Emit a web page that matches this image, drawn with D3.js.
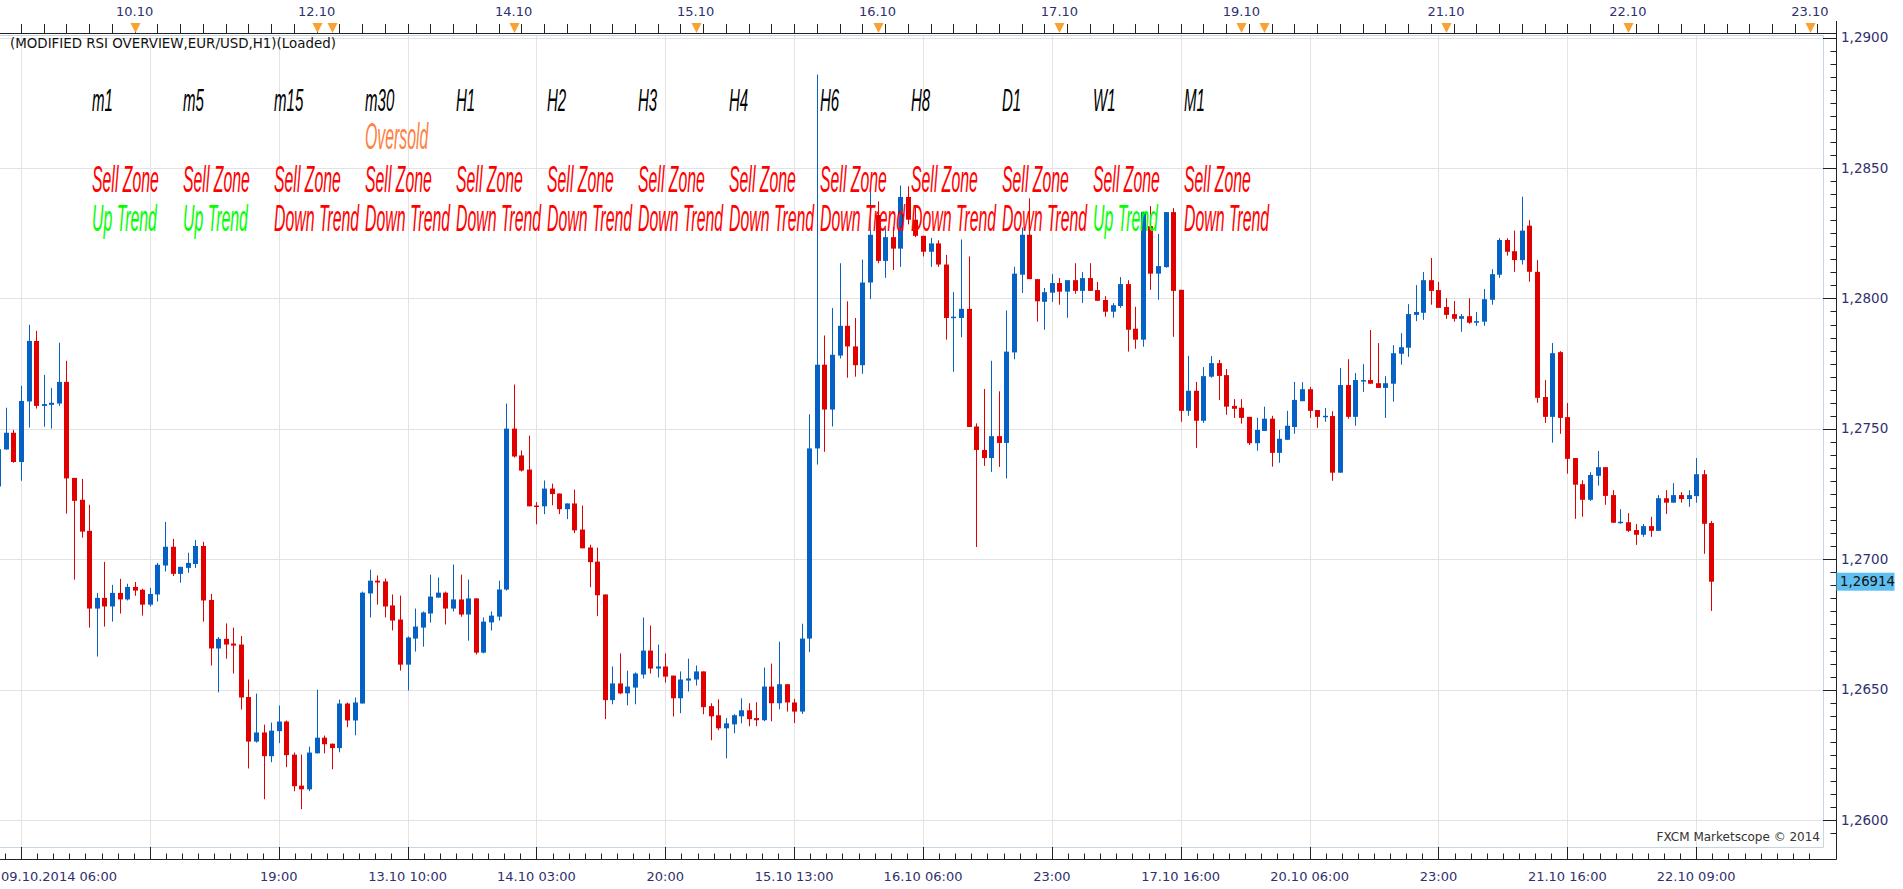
<!DOCTYPE html>
<html><head><meta charset="utf-8">
<script src="https://cdn.jsdelivr.net/npm/d3@7"></script>
<style>html,body{margin:0;padding:0;background:#fff;overflow:hidden}</style>
</head><body><svg id="c" width="1903" height="889"></svg>
<script>
// ---------- data (EUR/USD H1 candles, index 0 = 09.10.2014 06:00) ----------
const opens=[1.27279,1.27421,1.27485,1.27373,1.27605,1.27837,1.27588,1.27592,1.27597,1.27680,1.27312,1.27228,1.27109,1.26811,1.26852,1.26819,1.26871,1.26846,1.26894,1.26883,
1.26826,1.26865,1.26976,1.27048,1.26944,1.26967,1.26982,1.27051,1.26844,1.26658,1.26695,1.26677,1.26673,1.26472,1.26301,1.26336,1.26245,1.26341,1.26378,1.26251,
1.26132,1.26118,1.26256,1.26316,1.26293,1.26276,1.26447,1.26382,1.26447,1.26869,1.26918,1.26915,1.26823,1.26769,1.26596,1.26696,1.26738,1.26792,1.26853,1.26872,
1.26811,1.26846,1.26788,1.26850,1.26642,1.26758,1.26780,1.26884,1.27501,1.27398,1.27344,1.27206,1.27203,1.27271,1.27252,1.27192,1.27214,1.27114,1.27045,1.26991,
1.26865,1.26460,1.26524,1.26486,1.26508,1.26558,1.26650,1.26581,1.26589,1.26554,1.26467,1.26535,1.26539,1.26570,1.26437,1.26402,1.26352,1.26367,1.26398,1.26421,
1.26391,1.26383,1.26512,1.26448,1.26521,1.26451,1.26416,1.26696,1.27425,1.27746,1.27574,1.27781,1.27895,1.27816,1.27744,1.28061,1.28320,1.28144,1.28235,1.28191,
1.28389,1.28302,1.28240,1.28179,1.28211,1.28130,1.27925,1.27925,1.27960,1.27509,1.27419,1.27388,1.27472,1.27446,1.27793,1.28091,1.28244,1.28074,1.27987,1.28022,
1.28059,1.28026,1.28070,1.28029,1.28078,1.28032,1.27994,1.27949,1.27971,1.28055,1.27884,1.27842,1.28277,1.28095,1.28120,1.28331,1.28033,1.27569,1.27646,1.27531,
1.27700,1.27752,1.27706,1.27588,1.27581,1.27546,1.27445,1.27492,1.27539,1.27408,1.27458,1.27507,1.27606,1.27652,1.27572,1.27546,1.27549,1.27332,1.27668,1.27546,
1.27684,1.27687,1.27675,1.27657,1.27673,1.27788,1.27811,1.27937,1.27945,1.28070,1.28032,1.27967,1.27940,1.27922,1.27932,1.27907,1.27911,1.27995,1.28091,1.28224,
1.28181,1.28147,1.28279,1.28102,1.27622,1.27546,1.27794,1.27545,1.27388,1.27288,1.27228,1.27320,1.27353,1.27246,1.27140,1.27142,1.27112,1.27094,1.27127,1.27109,
1.27234,1.27217,1.27246,1.27231,1.27242,1.27326,1.27139];
const highs=[1.27450,1.27581,1.27496,1.27665,1.27899,1.27876,1.27707,1.27657,1.27830,1.27761,1.27312,1.27308,1.27209,1.26871,1.26990,1.26902,1.26925,1.26906,1.26913,1.26887,
1.26890,1.26986,1.27143,1.27078,1.26971,1.27025,1.27074,1.27067,1.26867,1.26702,1.26754,1.26738,1.26706,1.26539,1.26485,1.26366,1.26374,1.26439,1.26382,1.26259,
1.26251,1.26282,1.26500,1.26324,1.26293,1.26462,1.26451,1.26470,1.26876,1.26960,1.26938,1.26926,1.26865,1.26861,1.26704,1.26811,1.26800,1.26941,1.26930,1.26876,
1.26980,1.26941,1.26922,1.26850,1.26777,1.26800,1.26918,1.27597,1.27670,1.27417,1.27474,1.27219,1.27302,1.27290,1.27252,1.27214,1.27267,1.27206,1.27056,1.27045,
1.26865,1.26589,1.26639,1.26573,1.26566,1.26777,1.26746,1.26673,1.26639,1.26554,1.26570,1.26619,1.26593,1.26570,1.26448,1.26463,1.26391,1.26406,1.26467,1.26448,
1.26452,1.26585,1.26600,1.26684,1.26521,1.26465,1.26753,1.27556,1.28858,1.27858,1.27963,1.28135,1.27989,1.27925,1.28149,1.28425,1.28372,1.28272,1.28275,1.28433,
1.28430,1.28354,1.28240,1.28232,1.28223,1.28167,1.28025,1.28226,1.28161,1.27521,1.27653,1.27761,1.27644,1.27954,1.28121,1.28272,1.28384,1.28074,1.28040,1.28093,
1.28078,1.28070,1.28135,1.28101,1.28135,1.28063,1.28009,1.27982,1.28082,1.28070,1.27968,1.28331,1.28354,1.28247,1.28331,1.28346,1.28033,1.27780,1.27680,1.27737,
1.27779,1.27764,1.27729,1.27614,1.27614,1.27546,1.27542,1.27585,1.27550,1.27496,1.27569,1.27680,1.27679,1.27660,1.27572,1.27580,1.27568,1.27733,1.27767,1.27714,
1.27748,1.27879,1.27829,1.27702,1.27821,1.27867,1.27978,1.28051,1.28101,1.28155,1.28063,1.28001,1.27990,1.27940,1.28001,1.27948,1.28036,1.28112,1.28231,1.28231,
1.28260,1.28390,1.28300,1.28147,1.27687,1.27829,1.27798,1.27599,1.27388,1.27303,1.27334,1.27415,1.27353,1.27265,1.27192,1.27177,1.27135,1.27135,1.27163,1.27246,
1.27265,1.27292,1.27257,1.27265,1.27388,1.27342,1.27147];
const lows=[1.27270,1.27420,1.27370,1.27301,1.27505,1.27578,1.27508,1.27501,1.27588,1.27175,1.26922,1.27083,1.26738,1.26627,1.26742,1.26761,1.26792,1.26842,1.26860,1.26784,
1.26819,1.26838,1.26953,1.26936,1.26910,1.26948,1.26967,1.26761,1.26593,1.26490,1.26619,1.26562,1.26424,1.26198,1.26297,1.26080,1.26222,1.26295,1.26203,1.26111,
1.26042,1.26111,1.26256,1.26256,1.26195,1.26260,1.26356,1.26325,1.26447,1.26777,1.26826,1.26777,1.26727,1.26573,1.26497,1.26646,1.26665,1.26757,1.26853,1.26750,
1.26800,1.26780,1.26688,1.26635,1.26639,1.26727,1.26765,1.26880,1.27390,1.27336,1.27203,1.27134,1.27173,1.27207,1.27173,1.27154,1.27100,1.27042,1.26893,1.26782,
1.26387,1.26444,1.26483,1.26440,1.26444,1.26543,1.26562,1.26547,1.26527,1.26397,1.26410,1.26493,1.26516,1.26406,1.26306,1.26345,1.26237,1.26333,1.26371,1.26360,
1.26360,1.26379,1.26379,1.26425,1.26416,1.26372,1.26407,1.26644,1.27363,1.27412,1.27509,1.27770,1.27696,1.27700,1.27711,1.27998,1.28135,1.28079,1.28109,1.28121,
1.28284,1.28235,1.28161,1.28121,1.28121,1.27842,1.27719,1.27851,1.27507,1.27047,1.27358,1.27335,1.27354,1.27310,1.27767,1.28021,1.28074,1.27911,1.27880,1.27987,
1.27976,1.27926,1.28018,1.27983,1.28029,1.27991,1.27930,1.27926,1.27964,1.27796,1.27807,1.27815,1.28033,1.27995,1.28118,1.27853,1.27527,1.27550,1.27427,1.27523,
1.27696,1.27610,1.27554,1.27542,1.27520,1.27438,1.27416,1.27492,1.27355,1.27370,1.27458,1.27481,1.27606,1.27542,1.27504,1.27527,1.27301,1.27332,1.27539,1.27512,
1.27642,1.27673,1.27657,1.27542,1.27604,1.27746,1.27776,1.27913,1.27918,1.27976,1.27964,1.27922,1.27911,1.27872,1.27903,1.27895,1.27895,1.27976,1.28079,1.28164,
1.28102,1.28130,1.28064,1.27600,1.27523,1.27447,1.27481,1.27328,1.27155,1.27163,1.27224,1.27282,1.27209,1.27140,1.27136,1.27105,1.27055,1.27086,1.27086,1.27109,
1.27174,1.27217,1.27217,1.27201,1.27217,1.27021,1.26802];
const closes=[1.27422,1.27485,1.27373,1.27607,1.27837,1.27588,1.27595,1.27600,1.27680,1.27310,1.27224,1.27106,1.26811,1.26852,1.26819,1.26871,1.26846,1.26894,1.26880,1.26826,
1.26867,1.26979,1.27048,1.26944,1.26971,1.26986,1.27051,1.26842,1.26658,1.26695,1.26673,1.26669,1.26470,1.26301,1.26336,1.26245,1.26343,1.26378,1.26249,1.26130,
1.26118,1.26259,1.26316,1.26291,1.26276,1.26447,1.26382,1.26451,1.26872,1.26918,1.26911,1.26819,1.26765,1.26596,1.26700,1.26742,1.26796,1.26857,1.26872,1.26811,
1.26846,1.26788,1.26850,1.26642,1.26761,1.26784,1.26884,1.27501,1.27394,1.27340,1.27203,1.27202,1.27271,1.27250,1.27192,1.27214,1.27111,1.27042,1.26989,1.26862,
1.26460,1.26524,1.26486,1.26512,1.26562,1.26650,1.26581,1.26589,1.26550,1.26467,1.26539,1.26543,1.26570,1.26433,1.26398,1.26352,1.26371,1.26402,1.26421,1.26387,
1.26383,1.26512,1.26448,1.26521,1.26451,1.26416,1.26696,1.27425,1.27746,1.27574,1.27784,1.27895,1.27816,1.27744,1.28061,1.28244,1.28144,1.28235,1.28191,1.28389,
1.28302,1.28240,1.28179,1.28211,1.28130,1.27925,1.27930,1.27960,1.27507,1.27419,1.27388,1.27472,1.27446,1.27796,1.28095,1.28244,1.28074,1.27989,1.28024,1.28059,
1.28026,1.28070,1.28029,1.28078,1.28029,1.27991,1.27949,1.27974,1.28055,1.27880,1.27842,1.28331,1.28095,1.28124,1.28331,1.28029,1.27569,1.27646,1.27531,1.27702,
1.27752,1.27703,1.27585,1.27577,1.27542,1.27445,1.27496,1.27539,1.27408,1.27462,1.27512,1.27611,1.27652,1.27569,1.27546,1.27550,1.27332,1.27668,1.27546,1.27687,
1.27687,1.27673,1.27657,1.27675,1.27790,1.27813,1.27940,1.27948,1.28070,1.28029,1.27964,1.27937,1.27922,1.27932,1.27907,1.27913,1.27997,1.28093,1.28224,1.28179,
1.28147,1.28260,1.28102,1.27619,1.27546,1.27790,1.27542,1.27385,1.27286,1.27228,1.27323,1.27353,1.27243,1.27140,1.27144,1.27109,1.27094,1.27127,1.27109,1.27234,
1.27217,1.27246,1.27231,1.27246,1.27326,1.27136,1.26914];

const priceTicks=[1.26,1.265,1.27,1.275,1.28,1.285,1.29];
const xGridIdx=[3,20,37,54,71,88,105,122,139,156,173,190,207,224];
const xGridLabels=["","","19:00","13.10 10:00","14.10 03:00","20:00","15.10 13:00","16.10 06:00","23:00","17.10 16:00","20.10 06:00","23:00","21.10 16:00","22.10 09:00"];
const firstTimeLabel="09.10.2014 06:00";
const dayMarkIdx=[18,42,44,68,92,116,140,164,167,191,215,239];
const dayLabelIdx=[18,42,68,92,116,140,164,191,215,239];
const dayLabels=["10.10","12.10","14.10","15.10","16.10","17.10","19.10","21.10","22.10","23.10"];
const timeframes=["m1","m5","m15","m30","H1","H2","H3","H4","H6","H8","D1","W1","M1"];
const stateLabels=["","","","Oversold","","","","","","","","",""];
const zoneLabels=["Sell Zone","Sell Zone","Sell Zone","Sell Zone","Sell Zone","Sell Zone","Sell Zone","Sell Zone","Sell Zone","Sell Zone","Sell Zone","Sell Zone","Sell Zone"];
const trendLabels=["Up Trend","Up Trend","Down Trend","Down Trend","Down Trend","Down Trend","Down Trend","Down Trend","Down Trend","Down Trend","Down Trend","Up Trend","Down Trend"];
const titleText="(MODIFIED RSI OVERVIEW,EUR/USD,H1)(Loaded)";
const creditText="FXCM Marketscope \u00A9 2014";
const lastPrice=closes[closes.length-1];

// ---------- layout ----------
const P={l:0,r:1823,t:35,b:847};
const AX={right:1836.5,top:33.5,bottom:859.5};
const BLUE="#0562c4", RED="#e00000", AXTXT="#30306e", GRID="#e3e3e3", FRAME="#c8d5e2";

const x=d3.scaleLinear().domain([0,240]).range([-1.74,-1.74+7.58*240]);
const y=d3.scaleLinear().domain([1.26,1.29]).range([820.1,37.6]);
const col=d3.scaleLinear().domain([0,12]).range([92,92+91*12]);
const fmt=d=>d3.format(".4f")(d).replace(".",",");

const svg=d3.select("#c");
svg.append("rect").attr("width",1903).attr("height",889).attr("fill","#fff");
svg.append("defs").append("clipPath").attr("id","pc").append("rect")
  .attr("x",P.l).attr("y",P.t).attr("width",P.r-P.l).attr("height",P.b-P.t);

// grid
const g=svg.append("g");
g.selectAll("line.h").data(priceTicks).join("line").attr("class","h")
  .attr("x1",P.l).attr("x2",P.r).attr("y1",d=>Math.round(y(d))+0.5).attr("y2",d=>Math.round(y(d))+0.5)
  .attr("stroke",GRID).attr("stroke-width",1);
g.selectAll("line.v").data(xGridIdx).join("line").attr("class","v")
  .attr("x1",d=>Math.round(x(d))+0.5).attr("x2",d=>Math.round(x(d))+0.5).attr("y1",P.t).attr("y2",P.b)
  .attr("stroke",GRID).attr("stroke-width",1);

// candles
const candles=opens.map((o,i)=>({i,o,h:highs[i],l:lows[i],c:closes[i]}));
const cg=svg.append("g").attr("clip-path","url(#pc)");
const cs=cg.selectAll("g").data(candles).join("g");
cs.append("rect")
  .attr("x",d=>Math.round(x(d.i))).attr("width",1)
  .attr("y",d=>y(d.h)).attr("height",d=>Math.max(1,y(d.l)-y(d.h)))
  .attr("fill",d=>d.c>=d.o?BLUE:RED);
cs.append("rect")
  .attr("x",d=>Math.round(x(d.i))-2).attr("width",5)
  .attr("y",d=>y(Math.max(d.o,d.c))).attr("height",d=>Math.max(1.5,Math.abs(y(d.o)-y(d.c))))
  .attr("fill",d=>d.c>=d.o?BLUE:RED);

// indicator overview text
const tg=svg.append("g").attr("font-family","'Liberation Sans', Arial, sans-serif").attr("font-style","italic");
function rowText(arr,base,size,sx,color){
  tg.selectAll(null).data(arr.map((t,k)=>({t,k})).filter(d=>d.t)).join("text")
    .attr("transform",d=>`translate(${col(d.k)},${base}) scale(${sx},1)`)
    .attr("font-size",size).attr("fill",typeof color==="function"?d=>color(d.t):color)
    .text(d=>d.t);
}
rowText(timeframes,111,32,0.47,"#000");
rowText(stateLabels,149,36,0.44,"#ff8040");
rowText(zoneLabels,192,36,0.44,"#ff0000");
rowText(trendLabels,231,36,0.44,t=>t==="Up Trend"?"#00ff00":"#ff0000");

// title
const ff="'DejaVu Sans', Verdana, sans-serif";
svg.append("text").attr("x",10).attr("y",48).attr("font-family",ff)
  .attr("font-size",13.4).attr("fill","#111").text(titleText);
svg.append("text").attr("x",1820).attr("y",841).attr("text-anchor","end").attr("font-family",ff)
  .attr("font-size",12).attr("fill","#333").text(creditText);

// frame
svg.append("path").attr("d",`M${P.l},${P.t+0.5}H${P.r+0.5}V${P.b+0.5}H${P.l}`).attr("fill","none").attr("stroke",FRAME).attr("stroke-width",1);

// axes lines
const ax=svg.append("g").attr("stroke","#222").attr("stroke-width",1);
ax.append("line").attr("x1",0).attr("x2",AX.right).attr("y1",AX.top).attr("y2",AX.top);
ax.append("line").attr("x1",0).attr("x2",AX.right).attr("y1",AX.bottom).attr("y2",AX.bottom);
ax.append("line").attr("x1",AX.right).attr("x2",AX.right).attr("y1",21).attr("y2",AX.bottom);

// right axis ticks and labels
const minorP=d3.range(0,70).map(k=>1.2595+k*0.0005).filter(p=>p<=1.29001);
ax.selectAll("line.rm").data(minorP).join("line").attr("class","rm")
  .attr("x1",AX.right-6).attr("x2",AX.right).attr("y1",d=>Math.round(y(d))+0.5).attr("y2",d=>Math.round(y(d))+0.5);
ax.selectAll("line.rM").data(priceTicks).join("line").attr("class","rM")
  .attr("x1",P.r).attr("x2",AX.right).attr("y1",d=>Math.round(y(d))+0.5).attr("y2",d=>Math.round(y(d))+0.5);
svg.selectAll("text.py").data(priceTicks).join("text").attr("class","py")
  .attr("x",1841).attr("y",d=>y(d)+4.5).attr("font-family",ff).attr("font-size",13.5).attr("fill",AXTXT).text(fmt);

// last price box
svg.append("rect").attr("x",AX.right).attr("y",y(lastPrice)-9).attr("width",58).attr("height",18).attr("fill","#5fbff0");
svg.append("text").attr("x",1840).attr("y",y(lastPrice)+4.5).attr("font-family",ff).attr("font-size",13.3).attr("fill","#111")
  .text(d3.format(".5f")(lastPrice).replace(".",","));

// bottom axis
const bMinor=[];
xGridIdx.forEach(i=>{for(let k=1;k<8;k++)bMinor.push(i+k*17/8);});
bMinor.push(3-17/8);
ax.selectAll("line.bm").data(bMinor.filter(i=>x(i)>0&&x(i)<AX.right)).join("line").attr("class","bm")
  .attr("x1",d=>Math.round(x(d))+0.5).attr("x2",d=>Math.round(x(d))+0.5).attr("y1",AX.bottom-6).attr("y2",AX.bottom);
ax.selectAll("line.bM").data(xGridIdx).join("line").attr("class","bM")
  .attr("x1",d=>Math.round(x(d))+0.5).attr("x2",d=>Math.round(x(d))+0.5).attr("y1",P.b).attr("y2",AX.bottom);
svg.selectAll("text.bx").data(xGridIdx.map((i,k)=>({i,t:xGridLabels[k]})).filter(d=>d.t)).join("text").attr("class","bx")
  .attr("x",d=>x(d.i)).attr("y",881).attr("text-anchor","middle").attr("font-family",ff).attr("font-size",13).attr("fill",AXTXT).text(d=>d.t);
svg.append("text").attr("x",1).attr("y",881).attr("font-family",ff).attr("font-size",13).attr("fill",AXTXT).text(firstTimeLabel);

// top axis
const topTicks=d3.range(3,241,3);
ax.selectAll("line.tt").data(topTicks.filter(i=>x(i)<AX.right)).join("line").attr("class","tt")
  .attr("x1",d=>Math.round(x(d))+0.5).attr("x2",d=>Math.round(x(d))+0.5).attr("y1",24).attr("y2",AX.top);
svg.selectAll("path.tri").data(dayMarkIdx).join("path").attr("class","tri")
  .attr("d",d=>{const cx=Math.round(x(d))+0.5;return `M${cx-5},${23}L${cx+5},${23}L${cx},${33}Z`;})
  .attr("fill","#f7a232");
svg.selectAll("text.tx").data(dayLabelIdx.map((i,k)=>({i,t:dayLabels[k]}))).join("text").attr("class","tx")
  .attr("x",d=>x(d.i)).attr("y",16).attr("text-anchor","middle").attr("font-family",ff).attr("font-size",13).attr("fill",AXTXT).text(d=>d.t);
</script>
</body></html>
